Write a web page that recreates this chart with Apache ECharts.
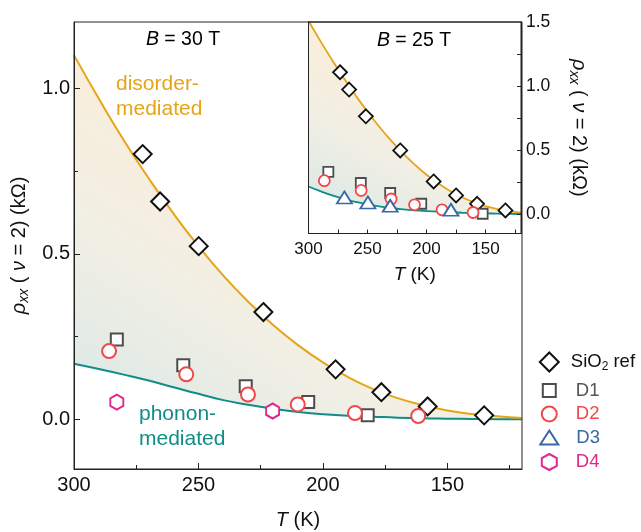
<!DOCTYPE html>
<html><head><meta charset="utf-8">
<script src="https://cdn.jsdelivr.net/npm/echarts@6/dist/echarts.min.js"></script>
<style>html,body{margin:0;padding:0;background:#fff}#c{width:641px;height:532px}</style>
</head><body><div id="c"></div>
<script>
// ---- data ----
const curveT = [300,290,280,270,260,250,240,230,220,210,200,190,180,170,160,150,140,130,120];
const mainDisorder = [1.100,0.968,0.843,0.728,0.621,0.523,0.434,0.355,0.285,0.224,0.172,0.128,0.092,0.064,0.043,0.027,0.016,0.009,0.004];
const mainPhonon   = [0.168,0.152,0.135,0.117,0.097,0.077,0.058,0.044,0.032,0.022,0.015,0.011,0.008,0.005,0.003,0.002,0.001,0.0005,0.0];
const insetDisorder = [1.510,1.353,1.204,1.061,0.926,0.800,0.683,0.574,0.476,0.387,0.308,0.240,0.182,0.133,0.094,0.063,0.040,0.024,0.013];
const insetPhonon   = [0.217,0.180,0.147,0.119,0.096,0.077,0.061,0.049,0.039,0.031,0.025,0.020,0.016,0.012,0.009,0.007,0.005,0.003,0.002];

const mainRefT = [272.4,265.4,249.9,223.9,194.9,176.5,157.9,135.2];
const mainRefR = [0.801,0.658,0.523,0.324,0.151,0.082,0.039,0.012];
const mainD1T = [282.8,256.1,231.0,205.9,182.0];
const mainD1R = [0.241,0.163,0.100,0.052,0.012];
const mainD2T = [285.9,254.9,230.1,210.1,187.1,161.7];
const mainD2R = [0.206,0.136,0.075,0.045,0.019,0.010];
const mainD4T = [282.8,220.2];
const mainD4R = [0.052,0.025];

const insetRefT = [273.3,265.6,251.4,222.3,194.0,175.0,157.2,133.2];
const insetRefR = [1.108,0.973,0.764,0.498,0.256,0.147,0.082,0.030];
const insetD1T = [283.2,255.7,230.8,204.5,152.5];
const insetD1R = [0.330,0.244,0.166,0.082,0.004];
const insetD2T = [286.6,255.4,230.0,210.2,186.9,160.6];
const insetD2R = [0.262,0.186,0.119,0.074,0.035,0.014];
const insetD3T = [269.6,249.7,230.8,179.3];
const insetD3R = [0.131,0.092,0.066,0.035];

const mainXLabels = [150,200,250,300];
const mainXMinor = [125,175,225,275];
const mainYLabels = [0,0.5,1.0];
const mainYMinor = [0.25,0.75];
const insetXLabels = [150,200,250,300];
const insetXTicks = [125,150,175,200,225,250,275];
const insetYLabels = [0,0.5,1.0,1.5];
const insetYTicks = [0,0.25,0.5,0.75,1.0,1.25];

// ---- styling ----
const FONT = 'Liberation Sans, Arial, sans-serif';
const C = {ref:'#111111', d1:'#4d4d4d', d2:'#F2474A', d3:'#3868A6', d4:'#E0288C', orange:'#E6A417', teal:'#118C87', axis:'#222'};
const HEX = 'path://M0,-10L8.66,-5L8.66,5L0,10L-8.66,5L-8.66,-5Z';
const pairs = (xs, ys) => xs.map((x, i) => [x, ys[i]]);
const grad = () => ({type:'linear', x:0, y:1, x2:0.5, y2:0.15, colorStops:[
  {offset:0, color:'#d3e6e6'}, {offset:0.5, color:'#f1efe4'}, {offset:1, color:'#fdeed6'}]});

const rich = (fs) => ({
  i:{fontStyle:'italic', fontSize:fs, fontFamily:FONT, color:'#111'},
  si:{fontStyle:'italic', fontSize:Math.round(fs*0.68), fontFamily:FONT, color:'#111', verticalAlign:'bottom', padding:[Math.round(fs*0.45),0,0,0]},
  n:{fontSize:fs, fontFamily:FONT, color:'#111'}
});
const yName = '{i|ρ}{si|xx}{n| ( }{i|ν}{n| = 2) (kΩ)}';

function valAxis(o) {
  return Object.assign({type:'value', z:10, splitLine:{show:false},
    axisLine:{show:true, onZero:false, lineStyle:{color:C.axis, width:1}}}, o);
}
const noLine = {show:false, onZero:false};

function scatter(name, xi, xs, ys, symbol, size, color, bw, z) {
  return {type:'scatter', name, xAxisIndex:xi, yAxisIndex:xi, data:pairs(xs, ys), symbol, symbolSize:size,
    itemStyle:{color:'#fff', borderColor:color, borderWidth:bw, opacity:1}, z:z||6, silent:true};
}

function curves(xi, top, bot, lw) {
  return [
    {type:'line', xAxisIndex:xi, yAxisIndex:xi, data:pairs(curveT, top), smooth:true, symbol:'none',
      lineStyle:{width:0, opacity:0}, areaStyle:{color:grad(), opacity:1, origin:'start'}, z:2, silent:true},
    {type:'line', xAxisIndex:xi, yAxisIndex:xi, data:pairs(curveT, bot), smooth:true, symbol:'none',
      lineStyle:{color:C.teal, width:lw}, areaStyle:{color:'#ffffff', opacity:1, origin:'start'}, z:3, silent:true},
    {type:'line', xAxisIndex:xi, yAxisIndex:xi, data:pairs(curveT, top), smooth:true, symbol:'none',
      lineStyle:{color:C.orange, width:lw}, z:4, silent:true}
  ];
}

const LFS = 18.5;
const legendDefs = [
  {name:'SiO2 ref', cy:361, w:19, h:19, pad:7, color:'#111'},
  {name:'D1', cy:390, w:13, h:13, pad:15, color:'#555'},
  {name:'D2', cy:413.5, w:15, h:15, pad:14, color:C.d2},
  {name:'D3', cy:437, w:18, h:14, pad:13, color:C.d3},
  {name:'D4', cy:461.5, w:15, h:16, pad:14, color:C.d4}
];

const option = {
  animation:false,
  backgroundColor:'#fff',
  textStyle:{fontFamily:FONT},
  grid:[
    {left:74, top:22, right:119, bottom:63, show:true, z:10, borderColor:C.axis, borderWidth:1, backgroundColor:'transparent', outerBoundsMode:'none', containLabel:false},
    {left:308.5, top:22, right:120, bottom:298.5, show:true, z:10, borderColor:C.axis, borderWidth:1, backgroundColor:'transparent', outerBoundsMode:'none', containLabel:false}
  ],
  xAxis:[
    valAxis({gridIndex:0, position:'bottom', min:120, max:300, inverse:true,
      name:'{i|T}{n| (K)}', nameLocation:'middle', nameGap:41, nameTextStyle:{rich:rich(20)},
      axisTick:{inside:true, length:6, customValues:mainXLabels, lineStyle:{color:C.axis}},
      axisLabel:{customValues:mainXLabels, fontSize:20, color:'#111', margin:6, fontFamily:FONT}}),
    valAxis({gridIndex:0, position:'bottom', min:120, max:300, inverse:true, axisLine:noLine,
      axisTick:{inside:true, length:4, customValues:mainXMinor, lineStyle:{color:C.axis}},
      axisLabel:{show:false}}),
    valAxis({gridIndex:1, position:'bottom', min:120, max:300, inverse:true,
      name:'{i|T}{n| (K)}', nameLocation:'middle', nameGap:32, nameTextStyle:{rich:rich(19)},
      axisTick:{inside:true, length:4, customValues:insetXTicks, lineStyle:{color:C.axis}},
      axisLabel:{customValues:insetXLabels, fontSize:17, color:'#111', margin:7, fontFamily:FONT}})
  ],
  yAxis:[
    valAxis({gridIndex:0, position:'left', min:-0.15, max:1.2,
      name:yName, nameLocation:'middle', nameGap:43, nameRotate:90, nameTextStyle:{rich:rich(20)},
      axisTick:{inside:true, length:6, customValues:mainYLabels, lineStyle:{color:C.axis}},
      axisLabel:{customValues:mainYLabels, fontSize:20, color:'#111', margin:4, fontFamily:FONT, formatter:v=>(+v).toFixed(1)}}),
    valAxis({gridIndex:0, position:'left', min:-0.15, max:1.2, axisLine:noLine,
      axisTick:{inside:true, length:4, customValues:mainYMinor, lineStyle:{color:C.axis}},
      axisLabel:{show:false}}),
    valAxis({gridIndex:1, position:'right', min:-0.15, max:1.5,
      name:yName, nameLocation:'middle', nameGap:46, nameRotate:-90, nameTextStyle:{rich:rich(20)},
      axisTick:{inside:true, length:4, customValues:insetYTicks, lineStyle:{color:C.axis}},
      axisLabel:{customValues:insetYLabels, fontSize:17.5, color:'#111', margin:5, fontFamily:FONT, formatter:v=>(+v).toFixed(1)}})
  ],
  legend: legendDefs.map(l => ({
    orient:'vertical', left:548.3 - l.w/2, top:l.cy - Math.max(l.h, 18)/2, padding:0, itemWidth:l.w, itemHeight:l.h, itemGap:0,
    symbolKeepAspect:false, selectedMode:false,
    textStyle:{fontSize:LFS, fontFamily:FONT, color:l.color, rich:{
      p:{fontSize:LFS, fontFamily:FONT, color:l.color, padding:[0,0,0,l.pad]},
      s:{fontSize:12, fontFamily:FONT, color:l.color, verticalAlign:'bottom', padding:[9,0,0,0]},
      u:{fontSize:LFS, fontFamily:FONT, color:l.color}}},
    formatter: n => n === 'SiO2 ref' ? '{p|SiO}{s|2}{u| ref}' : '{p|' + n + '}',
    data:[{name:l.name}]
  })),
  graphic:[
    {type:'text', x:183, y:40, z:10, style:{text:'{i|B}{n| = 30 T}', align:'center', verticalAlign:'middle', rich:rich(19.5)}},
    {type:'text', x:414, y:41, z:10, style:{text:'{i|B}{n| = 25 T}', align:'center', verticalAlign:'middle', rich:rich(19.5)}},
    {type:'text', x:116, y:72, z:10, style:{text:'disorder-\nmediated', fill:C.orange, fontSize:21, fontFamily:FONT, lineHeight:25}},
    {type:'text', x:139, y:402, z:10, style:{text:'phonon-\nmediated', fill:C.teal, fontSize:21, fontFamily:FONT, lineHeight:25}}
  ],
  series:[].concat(
    curves(0, mainDisorder, mainPhonon, 2),
    curves(2, insetDisorder, insetPhonon, 1.8),
    [
      scatter('SiO2 ref', 0, mainRefT, mainRefR, 'diamond', 18, C.ref, 2),
      scatter('D1', 0, mainD1T, mainD1R, 'rect', 12, C.d1, 2),
      scatter('D2', 0, mainD2T, mainD2R, 'circle', 14, C.d2, 2, 7),
      scatter('D4', 0, mainD4T, mainD4R, HEX, [13,15], C.d4, 2),
      scatter('SiO2 ref', 2, insetRefT, insetRefR, 'diamond', 14, C.ref, 1.8),
      scatter('D1', 2, insetD1T, insetD1R, 'rect', 10, C.d1, 1.8),
      scatter('D2', 2, insetD2T, insetD2R, 'circle', 11, C.d2, 1.8, 7),
      scatter('D3', 2, insetD3T, insetD3R, 'triangle', [15,12], C.d3, 1.8, 7)
    ])
};
const chart = echarts.init(document.getElementById('c'), null, {renderer:'canvas'});
chart.setOption(option);
</script></body></html>
